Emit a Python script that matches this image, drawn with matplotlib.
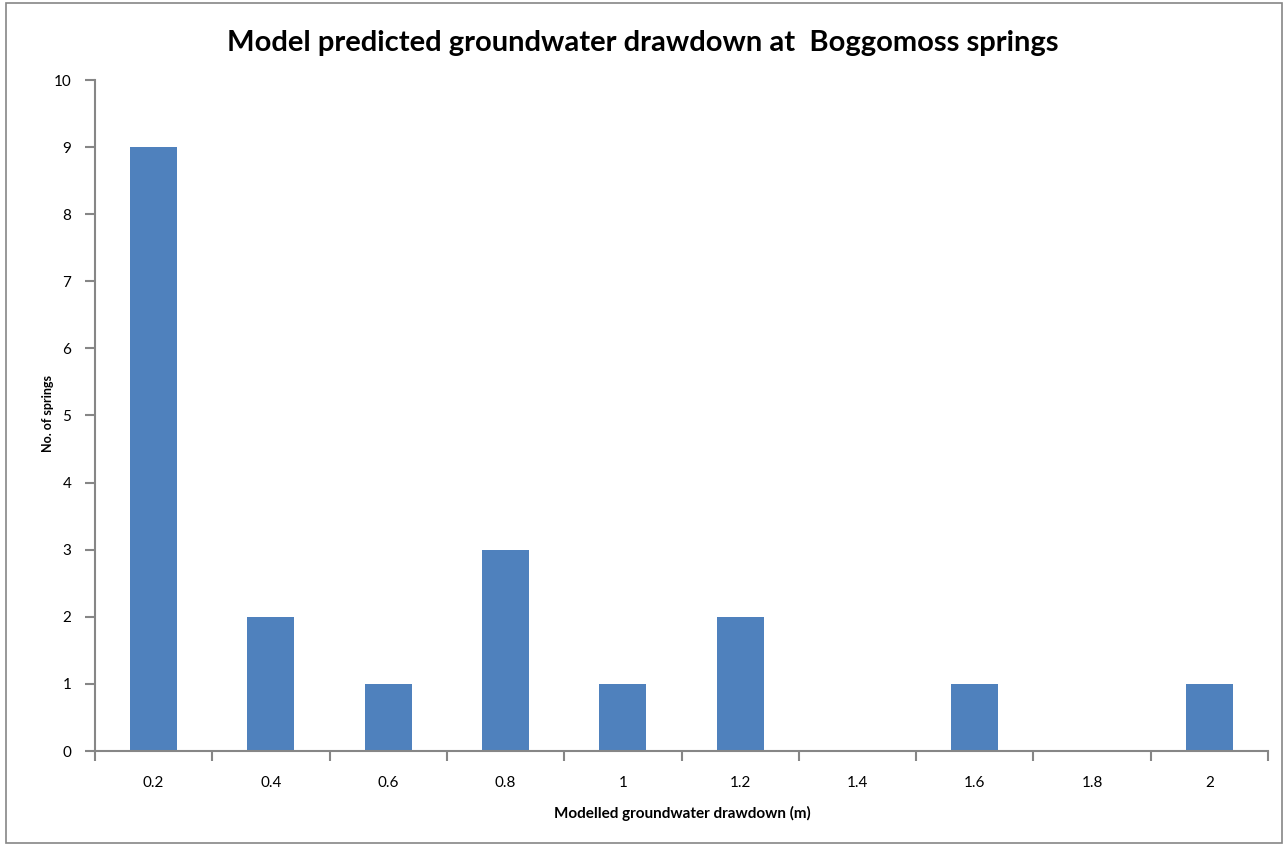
import matplotlib
matplotlib.use('Agg')
import matplotlib.pyplot as plt
from matplotlib.patches import Rectangle

# datos
drawdown = ['0.2', '0.4', '0.6', '0.8', '1', '1.2', '1.4', '1.6', '1.8', '2']
springs = [9, 2, 1, 3, 1, 2, 0, 1, 0, 1]

plt.rcParams['font.family'] = ['Lato', 'DejaVu Sans']
grey = '#868686'

fig = plt.figure(figsize=(12.85, 8.46), dpi=100)
ax = fig.add_axes([95 / 1285, 1 - 751 / 846, (1268 - 95) / 1285, (751 - 80) / 846])

pos = [i + 0.5 for i in range(len(drawdown))]
ax.bar(pos, springs, width=0.4, color='#4F81BD')

ax.set_xlim(0, len(drawdown))
ax.set_ylim(0, 10)
ax.set_yticks(range(0, 11))
ax.set_xticks(range(0, len(drawdown) + 1))
ax.set_xticklabels([])
ax.set_xticks(pos, minor=True)
ax.set_xticklabels(drawdown, minor=True)
ax.tick_params(axis='x', which='major', length=7, color=grey, width=1.5, direction='out')
ax.tick_params(axis='x', which='minor', length=0, pad=18, labelsize=11)
ax.tick_params(axis='y', length=7, color=grey, width=1.5, labelsize=11, pad=10)

for s in ['top', 'right']:
    ax.spines[s].set_visible(False)
for s in ['left', 'bottom']:
    ax.spines[s].set_color(grey)
    ax.spines[s].set_linewidth(1.5)

fig.text(0.5, 1 - 43 / 846, 'Model predicted groundwater drawdown at  Boggomoss springs',
         ha='center', va='center', fontsize=21, fontweight='bold')
fig.text(682 / 1285, 1 - 813 / 846, 'Modelled groundwater drawdown (m)',
         ha='center', va='center', fontsize=11, fontweight='bold')
fig.text(48 / 1285, 1 - 414 / 846, 'No. of springs', rotation=90,
         ha='center', va='center', fontsize=9, fontweight='bold')

fig.patches.append(Rectangle((6 / 1285, 3 / 846), 1276 / 1285, 840 / 846,
                             transform=fig.transFigure, fill=False,
                             edgecolor=grey, linewidth=1.2))

fig.savefig('out.png', dpi=100)
